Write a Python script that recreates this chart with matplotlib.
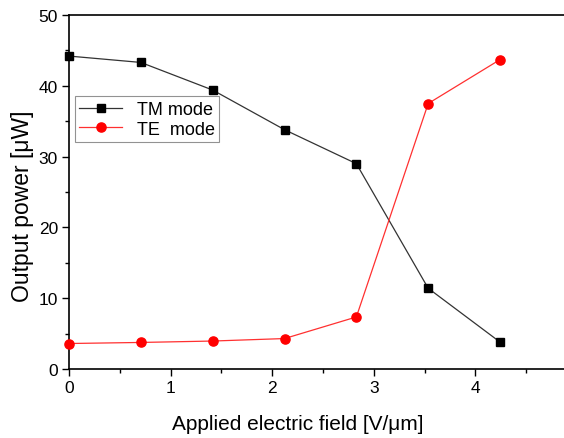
import matplotlib
matplotlib.use("Agg")
import matplotlib.pyplot as plt
from matplotlib.ticker import MultipleLocator

plt.rcParams['font.family'] = ['Liberation Sans', 'DejaVu Sans']

field = [0.0, 0.7071, 1.4142, 2.1213, 2.8284, 3.5355, 4.2426]
tm_power = [44.2, 43.3, 39.4, 33.8, 29.0, 11.4, 3.8]
te_power = [3.6, 3.75, 3.95, 4.3, 7.35, 37.5, 43.7]

fig = plt.figure(figsize=(5.64, 4.39), dpi=100)
ax = fig.add_axes([69/564, 1 - 370/439, 1.01 - 69/564, (370 - 16)/439])
axw = 564 * 1.01 - 69

ax.plot(field, tm_power, color='#333333', lw=0.9, marker='s', ms=5.6,
        mfc='black', mec='black', label='TM mode', clip_on=False, zorder=3)
ax.plot(field, te_power, color='#ff3030', lw=0.9, marker='o', ms=6.6,
        mfc='red', mec='red', label='TE  mode', clip_on=False, zorder=3)

ax.set_xlim(0, axw / 101.6)
ax.set_ylim(0, 50)
ax.xaxis.set_major_locator(MultipleLocator(1))
ax.xaxis.set_minor_locator(MultipleLocator(0.5))
ax.yaxis.set_major_locator(MultipleLocator(10))
ax.yaxis.set_minor_locator(MultipleLocator(5))
ax.tick_params(which='major', direction='out', length=5, width=1, labelsize=12.5, pad=3)
ax.tick_params(which='minor', direction='out', length=3, width=1)
ax.spines['right'].set_visible(False)
for s in ['left', 'top', 'bottom']:
    ax.spines[s].set_linewidth(1.2)

ax.set_xlabel('Applied electric field [V/\u03bcm]', fontsize=15)
ax.xaxis.set_label_coords((298 - 69) / axw, -0.128)
ax.set_ylabel('Output power [\u03bcW]', fontsize=16.5)
ax.yaxis.set_label_coords((34 - 69) / axw, (370 - 206) / 354)

leg = ax.legend(loc='upper left', bbox_to_anchor=(0.011, 0.77), fontsize=13,
                frameon=True, fancybox=False, borderpad=0.25, handlelength=2.4,
                labelspacing=0.15, handletextpad=0.8, borderaxespad=0)
leg.get_frame().set_edgecolor('#777777')
leg.get_frame().set_linewidth(0.8)

fig.savefig('out.png', dpi=100)
